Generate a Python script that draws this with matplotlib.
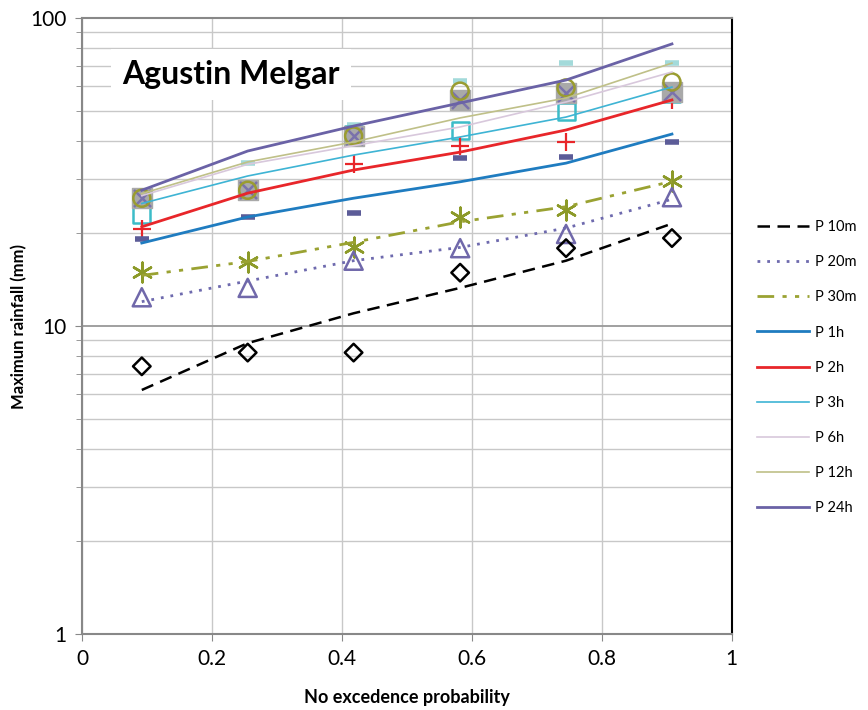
import numpy as np
import matplotlib
matplotlib.use("Agg")
from matplotlib import pyplot as plt
from matplotlib.ticker import LogLocator, FixedLocator, NullFormatter

plt.rcParams['font.family'] = ['Lato', 'DejaVu Sans']

# no-exceedence probability of each ranked sample
prob = [0.092, 0.255, 0.418, 0.582, 0.745, 0.908]

# fitted curves (mm)
fit_10m = [6.2, 8.8, 11.0, 13.3, 16.3, 21.5]
fit_20m = [12.0, 14.0, 16.3, 18.0, 20.8, 25.8]
fit_30m = [14.6, 16.2, 18.7, 21.8, 24.4, 29.5]
fit_1h = [18.6, 22.6, 26.0, 29.4, 33.8, 42.0]
fit_2h = [21.0, 27.0, 32.1, 36.7, 43.3, 54.2]
fit_3h = [25.0, 30.7, 35.9, 41.1, 47.7, 59.7]
fit_6h = [26.5, 33.5, 38.5, 44.3, 53.4, 66.8]
fit_12h = [26.9, 34.1, 39.6, 47.4, 55.0, 71.4]
fit_24h = [27.6, 37.0, 44.6, 53.0, 62.9, 82.4]

# observed maxima (mm)
obs_10m = [7.4, 8.2, 8.2, 14.9, 17.9, 19.3]
obs_20m = [12.4, 13.3, 16.3, 17.9, 19.9, 26.2]
obs_30m = [15.0, 16.1, 18.0, 22.6, 23.8, 29.6]
obs_1h = [19.2, 22.6, 23.3, 35.1, 35.4, 39.6]
obs_2h = [20.6, 27.6, 33.6, 38.4, 39.6, 54.2]
obs_3h = [23.0, 27.6, 42.0, 43.0, 49.9, 57.0]
obs_6h = [26.0, 33.8, 45.0, 62.4, 71.4, 71.4]
obs_12h = [26.0, 27.6, 41.4, 57.9, 59.3, 62.0]
obs_24h = [26.0, 27.6, 41.4, 54.2, 57.1, 57.5]

labels = ['P 10m', 'P 20m', 'P 30m', 'P 1h', 'P 2h', 'P 3h', 'P 6h', 'P 12h', 'P 24h']

fig = plt.figure(figsize=(8.68, 7.10), dpi=100)
ax = fig.add_axes([0.0945, 0.107, 0.7485, 0.8676])

# observed points; the grey square of P 24h hides what lies under it
ax.scatter(prob, obs_6h, marker='_', s=110, color='#a3dada', linewidths=4, zorder=3)
ax.scatter(prob, obs_3h, marker='s', s=150, facecolors='none', edgecolors='#3cbcc8', linewidths=1.8, zorder=3)
ax.scatter(prob, obs_2h, marker='+', s=160, color='#e8262a', linewidths=1.6, zorder=3)
ax.scatter(prob, obs_24h, marker='s', s=220, color='#a9a9a9', zorder=3.5)
ax.scatter(prob, obs_24h, marker='x', s=150, color='#7a72ac', linewidths=1.8, zorder=3.6)
ax.scatter(prob, obs_12h, marker='o', s=150, facecolors='none', edgecolors='#9a9c30', linewidths=1.8, zorder=3.6)
ax.scatter(prob, obs_1h, marker='_', s=110, color='#5c5c98', linewidths=4, zorder=3)
ax.scatter(prob, obs_30m, marker=(6, 2, 0), s=200, color='#8c9a28', linewidths=1.8, zorder=3)
ax.scatter(prob, obs_20m, marker='^', s=170, facecolors='none', edgecolors='#7068aa', linewidths=1.8, zorder=3)
ax.scatter(prob, obs_10m, marker='D', s=80, facecolors='none', edgecolors='black', linewidths=1.8, zorder=3)

ax.plot(prob, fit_10m, color='black', ls=(0, (5, 3)), lw=1.8, label=labels[0], zorder=4)
ax.plot(prob, fit_20m, color='#6e6aae', ls=(0, (1, 2.5)), lw=2.0, label=labels[1], zorder=4)
ax.plot(prob, fit_30m, color='#9aa232', ls=(0, (6, 3, 1.5, 3, 1.5, 3)), lw=2.0, label=labels[2], zorder=4)
ax.plot(prob, fit_1h, color='#1f7cc0', lw=2.0, label=labels[3], zorder=4)
ax.plot(prob, fit_2h, color='#e8262a', lw=2.0, label=labels[4], zorder=4)
ax.plot(prob, fit_3h, color='#3eb4d4', lw=1.2, label=labels[5], zorder=4)
ax.plot(prob, fit_6h, color='#d8c8dc', lw=1.2, label=labels[6], zorder=4)
ax.plot(prob, fit_12h, color='#bfc088', lw=1.2, label=labels[7], zorder=4)
ax.plot(prob, fit_24h, color='#6a62a6', lw=2.0, label=labels[8], zorder=4)

ax.set_yscale('log')
ax.set_xlim(0, 1)
ax.set_ylim(1, 100)
ax.xaxis.set_major_locator(FixedLocator([0, 0.2, 0.4, 0.6, 0.8, 1.0]))
ax.set_xticklabels(['0', '0.2', '0.4', '0.6', '0.8', '1'])
ax.yaxis.set_major_locator(FixedLocator([1, 10, 100]))
ax.set_yticklabels(['1', '10', '100'])
ax.yaxis.set_minor_locator(LogLocator(base=10, subs=np.arange(2, 10)))
ax.yaxis.set_minor_formatter(NullFormatter())

ax.grid(True, which='major', axis='x', color='#c8c8c8', lw=1.0)
ax.grid(True, which='major', axis='y', color='#999999', lw=1.3)
ax.grid(True, which='minor', axis='y', color='#c8c8c8', lw=1.0)
ax.set_axisbelow(True)

ax.tick_params(axis='both', which='major', labelsize=15, length=5, color='#888888', pad=6)
ax.tick_params(axis='y', which='minor', length=4, color='#888888')
for side in ['left', 'bottom', 'top']:
    ax.spines[side].set_color('#888888')
    ax.spines[side].set_linewidth(1.5)
ax.spines['right'].set_color('black')
ax.spines['right'].set_linewidth(1.5)

ax.set_xlabel('No excedence probability', fontsize=13, fontweight='bold', labelpad=14)
ax.set_ylabel('Maximun rainfall (mm)', fontsize=12, fontweight='bold', labelpad=2)

ax.text(0.062, 0.893, 'Agustin Melgar', transform=ax.transAxes, fontsize=23, fontweight='bold',
        zorder=6, bbox=dict(facecolor='white', edgecolor='none', pad=8))

fig.legend(loc='upper left', bbox_to_anchor=(0.872, 0.69), frameon=False, fontsize=10.5,
           handlelength=3.6, labelspacing=1.45, handletextpad=0.35, borderpad=0,
           borderaxespad=0)

fig.savefig('out.png', dpi=100)
